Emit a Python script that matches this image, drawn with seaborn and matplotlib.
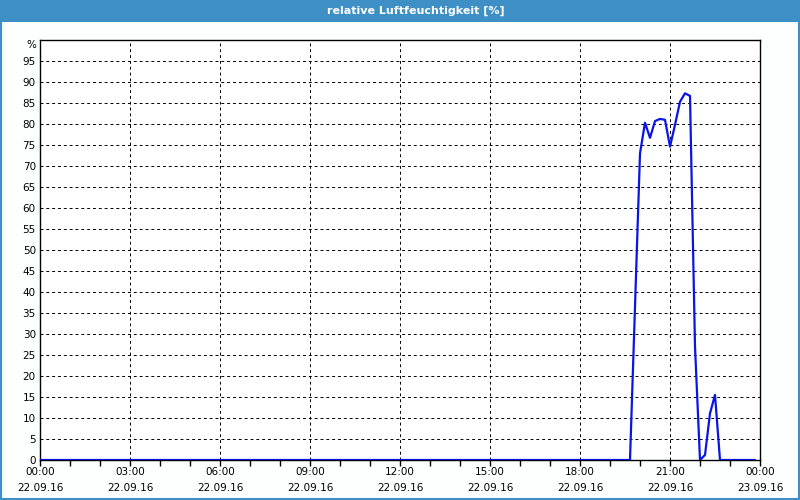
import pandas as pd
import numpy as np
import matplotlib
matplotlib.use('Agg')
import matplotlib.pyplot as plt
import matplotlib.dates as mdates
import matplotlib.transforms as mtransforms
from matplotlib.patches import Rectangle
import seaborn as sns

# data (10-minute samples, zero elsewhere)
times = ["00:00", "19:40", "19:50", "20:00", "20:10", "20:20", "20:30", "20:40",
         "20:50", "21:00", "21:10", "21:20", "21:30", "21:40", "21:50", "22:00",
         "22:10", "22:20", "22:30", "22:40", "23:50"]
humidity = [0, 0, 36.5, 73, 80.3, 76.7, 80.7, 81.2,
            81, 74.6, 79.8, 85.3, 87.3, 86.7, 27, 0,
            1.2, 11.1, 15.5, 0, 0]
date_str = "2016-09-22"
title = "relative Luftfeuchtigkeit [%]"
y_ticks = list(range(0, 100, 5))

df = pd.DataFrame({
    'time': pd.to_datetime([f"{date_str} {t}" for t in times]),
    'humidity': humidity,
})

sns.set_style('white')
plt.rcParams['font.family'] = ['DejaVu Sans']
plt.rcParams['text.color'] = 'black'
plt.rcParams['xtick.color'] = 'black'
plt.rcParams['ytick.color'] = 'black'

bar_blue = '#3d8fc6'
fig = plt.figure(figsize=(8, 5), dpi=100, facecolor='#fcfffe')
ax = fig.add_axes([0.05, 0.08, 0.90, 0.84])
ax.set_facecolor('white')

sns.lineplot(data=df, x='time', y='humidity', ax=ax, color='#0a14e6',
             linewidth=1.6, zorder=5)

start = pd.Timestamp(date_str)
ax.set_xlim(start, start + pd.Timedelta(hours=24))
ax.set_ylim(0, 100)

ax.xaxis.set_major_locator(mdates.HourLocator(byhour=range(0, 24, 3)))
ax.xaxis.set_major_formatter(mdates.DateFormatter('%H:%M\n%d.%m.%y'))
ax.xaxis.set_minor_locator(mdates.HourLocator())
ax.set_yticks(y_ticks)
ax.set_yticklabels([str(v) for v in y_ticks])

ax.tick_params(axis='x', which='both', direction='out', length=4, width=1,
               color='black', labelcolor='black', labelsize=7.5, pad=1, bottom=True)
ax.tick_params(axis='y', length=0, labelsize=7.5, labelcolor='black', pad=3)
for lbl in ax.get_xticklabels():
    lbl.set_linespacing(1.75)

ax.grid(True, which='major', color='black', linestyle=(0, (3, 3)), linewidth=0.7)
for s in ax.spines.values():
    s.set_color('black')
    s.set_linewidth(1)

trans = mtransforms.blended_transform_factory(ax.transAxes, ax.transData)
ax.text(-0.005, 100, '%', transform=trans, ha='right', va='top', fontsize=7.5,
        color='black')

ax.set_xlabel('')
ax.set_ylabel('')

# title bar and frame
fig.patches.append(Rectangle((0, 0.956), 1, 0.044, transform=fig.transFigure,
                             facecolor=bar_blue, edgecolor='none', zorder=0))
fig.patches.append(Rectangle((0.001, 0.002), 0.998, 0.996, transform=fig.transFigure,
                             facecolor='none', edgecolor=bar_blue, linewidth=1.5, zorder=1))
fig.text(0.52, 0.978, title, ha='center', va='center', color='white',
         fontsize=8, fontweight='bold')

fig.savefig('out.png', dpi=100, facecolor=fig.get_facecolor())
plt.close(fig)
